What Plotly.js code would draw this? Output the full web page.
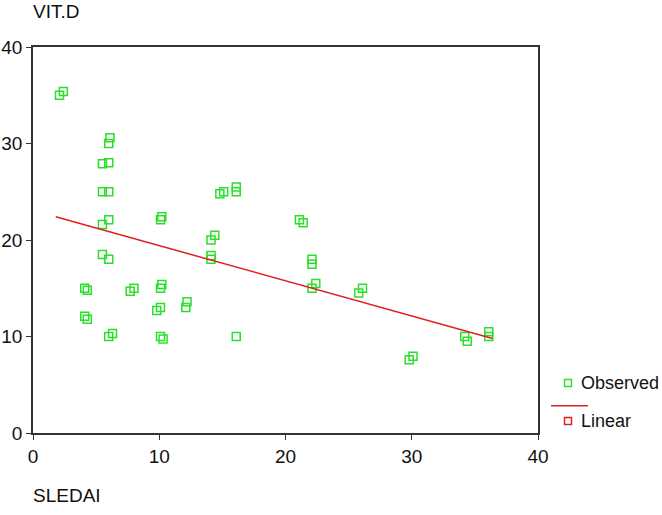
<!DOCTYPE html>
<html>
<head>
<meta charset="utf-8">
<script src="https://cdn.plot.ly/plotly-3.0.1.min.js"></script>
<style>
  body { margin: 0; background: #fff; }
  #plot { width: 662px; height: 515px; }
</style>
</head>
<body>
<div id="plot"></div>
<script>
var sledai = [2.1, 2.4, 6.1, 6.0, 5.5, 6.0, 5.5, 6.0, 5.5, 6.0,
  5.5, 6.0, 4.1, 4.3, 4.1, 4.3, 6.0, 6.3, 7.7, 8.0,
  10.1, 10.2, 10.1, 10.2, 9.8, 10.1, 10.1, 10.3, 12.1, 12.2,
  14.1, 14.4, 14.1, 14.1, 14.8, 15.1, 16.1, 16.1, 16.1,
  21.1, 21.4, 22.1, 22.1, 22.1, 22.4, 25.8, 26.1, 29.8, 30.1,
  34.2, 34.4, 36.1, 36.1];
var vitD = [35.0, 35.4, 30.6, 30.0, 27.9, 28.0, 25.0, 25.0, 21.6, 22.1,
  18.5, 18.0, 15.0, 14.8, 12.1, 11.8, 10.0, 10.3, 14.7, 15.0,
  22.1, 22.4, 15.0, 15.4, 12.7, 13.0, 10.0, 9.75, 13.0, 13.6,
  20.0, 20.5, 18.4, 18.0, 24.8, 25.0, 25.5, 25.0, 10.0,
  22.1, 21.8, 18.0, 17.5, 15.0, 15.5, 14.5, 15.0, 7.6, 7.95,
  10.0, 9.5, 10.5, 10.0];

// linear fit, end points
var fitX = [1.8, 36.4];
var fitY = [22.4, 9.8];

var green = '#2be02b';
var red = '#e02020';

var observed = {
  x: sledai,
  y: vitD,
  mode: 'markers',
  type: 'scatter',
  name: 'Observed',
  marker: {symbol: 'square-open', size: 8, color: green, line: {width: 1.5}}
};

var linear = {
  x: fitX,
  y: fitY,
  mode: 'lines',
  type: 'scatter',
  name: 'Linear',
  line: {color: red, width: 1.5}
};

var txtFont = {family: 'Liberation Sans, Arial, sans-serif', size: 19, color: '#111'};
var legFont = {family: 'Liberation Sans, Arial, sans-serif', size: 18, color: '#111'};

// SPSS style legend: drawn with shapes and annotations in paper space
function sq(px, py, col) {
  return {type: 'rect', xref: 'paper', yref: 'paper', xsizemode: 'pixel', ysizemode: 'pixel',
    xanchor: px, yanchor: py, x0: -3.5, x1: 3.5, y0: -3.5, y1: 3.5,
    line: {color: col, width: 1.5}, fillcolor: 'rgba(0,0,0,0)'};
}

var layout = {
  width: 662,
  height: 515,
  margin: {l: 33, r: 124, t: 47, b: 82, autoexpand: false},
  paper_bgcolor: '#fff',
  plot_bgcolor: '#fff',
  showlegend: false,
  xaxis: {
    range: [0, 40],
    tickvals: [0, 10, 20, 30, 40],
    showgrid: false,
    zeroline: false,
    showline: true,
    mirror: true,
    linecolor: '#333',
    linewidth: 1.5,
    ticks: 'outside',
    ticklen: 5,
    tickcolor: '#333',
    tickfont: txtFont
  },
  yaxis: {
    range: [0, 40],
    tickvals: [0, 10, 20, 30, 40],
    showgrid: false,
    zeroline: false,
    showline: true,
    mirror: true,
    linecolor: '#333',
    linewidth: 1.5,
    ticks: 'outside',
    ticklen: 5,
    tickcolor: '#333',
    tickfont: txtFont
  },
  shapes: [
    sq(1.0594, 0.1295, green),
    {type: 'line', xref: 'paper', yref: 'paper', x0: 1.0257, x1: 1.099, y0: 0.0707, y1: 0.0707,
      line: {color: red, width: 1.5}},
    sq(1.0594, 0.031, red)
  ],
  annotations: [
    {text: 'VIT.D', xref: 'paper', yref: 'paper', x: -0.004, y: 1.091,
      xanchor: 'left', yanchor: 'middle', showarrow: false, font: txtFont},
    {text: 'SLEDAI', xref: 'paper', yref: 'paper', x: -0.004, y: -0.162,
      xanchor: 'left', yanchor: 'middle', showarrow: false, font: txtFont},
    {text: 'Observed', xref: 'paper', yref: 'paper', x: 1.081, y: 0.1295,
      xanchor: 'left', yanchor: 'middle', showarrow: false, font: legFont},
    {text: 'Linear', xref: 'paper', yref: 'paper', x: 1.081, y: 0.031,
      xanchor: 'left', yanchor: 'middle', showarrow: false, font: legFont}
  ]
};

Plotly.newPlot('plot', [observed, linear], layout, {displayModeBar: false});
</script>
</body>
</html>
